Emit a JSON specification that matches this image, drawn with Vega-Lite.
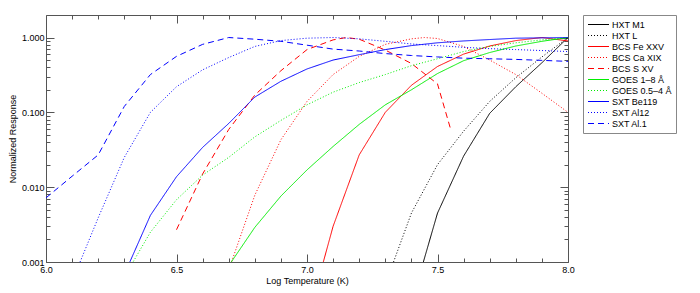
{
  "$schema": "https://vega.github.io/schema/vega-lite/v6.json",
  "width": 522,
  "height": 247,
  "autosize": {"type": "none"},
  "padding": {"left": 46, "top": 15, "right": 132, "bottom": 31},
  "background": "white",
  "config": {
    "view": {"stroke": "#555", "strokeWidth": 1},
    "font": "Liberation Sans",
    "axis": {"labelFont": "Liberation Sans", "titleFont": "Liberation Sans", "labelFontSize": 9, "titleFontSize": 9, "titleFontWeight": "normal", "labelColor": "#000", "titleColor": "#000", "tickColor": "#555", "grid": false, "domain": false}
  },
  "data": {"values": [
    {"series": "HXT M1", "t": 7.4, "r": 0.00028},
    {"series": "HXT M1", "t": 7.5, "r": 0.0045},
    {"series": "HXT M1", "t": 7.6, "r": 0.026},
    {"series": "HXT M1", "t": 7.7, "r": 0.097},
    {"series": "HXT M1", "t": 7.8, "r": 0.22},
    {"series": "HXT M1", "t": 7.9, "r": 0.46},
    {"series": "HXT M1", "t": 8.0, "r": 1.0},

    {"series": "HXT L", "t": 7.3, "r": 0.0005},
    {"series": "HXT L", "t": 7.4, "r": 0.0045},
    {"series": "HXT L", "t": 7.5, "r": 0.02},
    {"series": "HXT L", "t": 7.6, "r": 0.056},
    {"series": "HXT L", "t": 7.7, "r": 0.14},
    {"series": "HXT L", "t": 7.8, "r": 0.29},
    {"series": "HXT L", "t": 7.9, "r": 0.55},
    {"series": "HXT L", "t": 8.0, "r": 1.0},

    {"series": "BCS Fe XXV", "t": 7.0, "r": 0.00016},
    {"series": "BCS Fe XXV", "t": 7.1, "r": 0.003},
    {"series": "BCS Fe XXV", "t": 7.2, "r": 0.027},
    {"series": "BCS Fe XXV", "t": 7.3, "r": 0.10},
    {"series": "BCS Fe XXV", "t": 7.4, "r": 0.23},
    {"series": "BCS Fe XXV", "t": 7.5, "r": 0.41},
    {"series": "BCS Fe XXV", "t": 7.6, "r": 0.60},
    {"series": "BCS Fe XXV", "t": 7.7, "r": 0.77},
    {"series": "BCS Fe XXV", "t": 7.8, "r": 0.91},
    {"series": "BCS Fe XXV", "t": 7.9, "r": 1.0},
    {"series": "BCS Fe XXV", "t": 8.0, "r": 0.90},

    {"series": "BCS Ca XIX", "t": 6.7, "r": 0.00078},
    {"series": "BCS Ca XIX", "t": 6.8, "r": 0.0078},
    {"series": "BCS Ca XIX", "t": 6.9, "r": 0.043},
    {"series": "BCS Ca XIX", "t": 7.0, "r": 0.14},
    {"series": "BCS Ca XIX", "t": 7.1, "r": 0.32},
    {"series": "BCS Ca XIX", "t": 7.2, "r": 0.56},
    {"series": "BCS Ca XIX", "t": 7.3, "r": 0.81},
    {"series": "BCS Ca XIX", "t": 7.4, "r": 0.96},
    {"series": "BCS Ca XIX", "t": 7.45, "r": 1.0},
    {"series": "BCS Ca XIX", "t": 7.5, "r": 0.97},
    {"series": "BCS Ca XIX", "t": 7.6, "r": 0.76},
    {"series": "BCS Ca XIX", "t": 7.7, "r": 0.50},
    {"series": "BCS Ca XIX", "t": 7.8, "r": 0.32},
    {"series": "BCS Ca XIX", "t": 7.9, "r": 0.18},
    {"series": "BCS Ca XIX", "t": 8.0, "r": 0.10},

    {"series": "BCS S XV", "t": 6.5, "r": 0.0027},
    {"series": "BCS S XV", "t": 6.6, "r": 0.015},
    {"series": "BCS S XV", "t": 6.7, "r": 0.059},
    {"series": "BCS S XV", "t": 6.8, "r": 0.17},
    {"series": "BCS S XV", "t": 6.9, "r": 0.36},
    {"series": "BCS S XV", "t": 7.0, "r": 0.69},
    {"series": "BCS S XV", "t": 7.1, "r": 0.93},
    {"series": "BCS S XV", "t": 7.15, "r": 1.0},
    {"series": "BCS S XV", "t": 7.2, "r": 0.95},
    {"series": "BCS S XV", "t": 7.3, "r": 0.68},
    {"series": "BCS S XV", "t": 7.4, "r": 0.45},
    {"series": "BCS S XV", "t": 7.5, "r": 0.24},
    {"series": "BCS S XV", "t": 7.55, "r": 0.06},

    {"series": "GOES 1–8 Å", "t": 6.7, "r": 0.00089},
    {"series": "GOES 1–8 Å", "t": 6.8, "r": 0.0029},
    {"series": "GOES 1–8 Å", "t": 6.9, "r": 0.0076},
    {"series": "GOES 1–8 Å", "t": 7.0, "r": 0.017},
    {"series": "GOES 1–8 Å", "t": 7.1, "r": 0.035},
    {"series": "GOES 1–8 Å", "t": 7.2, "r": 0.069},
    {"series": "GOES 1–8 Å", "t": 7.3, "r": 0.126},
    {"series": "GOES 1–8 Å", "t": 7.4, "r": 0.20},
    {"series": "GOES 1–8 Å", "t": 7.5, "r": 0.33},
    {"series": "GOES 1–8 Å", "t": 7.6, "r": 0.49},
    {"series": "GOES 1–8 Å", "t": 7.7, "r": 0.63},
    {"series": "GOES 1–8 Å", "t": 7.8, "r": 0.77},
    {"series": "GOES 1–8 Å", "t": 7.9, "r": 0.89},
    {"series": "GOES 1–8 Å", "t": 8.0, "r": 1.0},

    {"series": "GOES 0.5–4 Å", "t": 6.3, "r": 0.00063},
    {"series": "GOES 0.5–4 Å", "t": 6.4, "r": 0.0025},
    {"series": "GOES 0.5–4 Å", "t": 6.5, "r": 0.0068},
    {"series": "GOES 0.5–4 Å", "t": 6.6, "r": 0.0145},
    {"series": "GOES 0.5–4 Å", "t": 6.7, "r": 0.025},
    {"series": "GOES 0.5–4 Å", "t": 6.8, "r": 0.047},
    {"series": "GOES 0.5–4 Å", "t": 6.9, "r": 0.078},
    {"series": "GOES 0.5–4 Å", "t": 7.0, "r": 0.126},
    {"series": "GOES 0.5–4 Å", "t": 7.1, "r": 0.186},
    {"series": "GOES 0.5–4 Å", "t": 7.2, "r": 0.25},
    {"series": "GOES 0.5–4 Å", "t": 7.3, "r": 0.32},
    {"series": "GOES 0.5–4 Å", "t": 7.4, "r": 0.42},
    {"series": "GOES 0.5–4 Å", "t": 7.5, "r": 0.52},
    {"series": "GOES 0.5–4 Å", "t": 7.6, "r": 0.65},
    {"series": "GOES 0.5–4 Å", "t": 7.7, "r": 0.76},
    {"series": "GOES 0.5–4 Å", "t": 7.8, "r": 0.85},
    {"series": "GOES 0.5–4 Å", "t": 7.9, "r": 0.93},
    {"series": "GOES 0.5–4 Å", "t": 8.0, "r": 1.0},

    {"series": "SXT Be119", "t": 6.3, "r": 0.00068},
    {"series": "SXT Be119", "t": 6.4, "r": 0.0042},
    {"series": "SXT Be119", "t": 6.5, "r": 0.0138},
    {"series": "SXT Be119", "t": 6.6, "r": 0.034},
    {"series": "SXT Be119", "t": 6.7, "r": 0.071},
    {"series": "SXT Be119", "t": 6.8, "r": 0.16},
    {"series": "SXT Be119", "t": 6.9, "r": 0.26},
    {"series": "SXT Be119", "t": 7.0, "r": 0.38},
    {"series": "SXT Be119", "t": 7.1, "r": 0.50},
    {"series": "SXT Be119", "t": 7.2, "r": 0.59},
    {"series": "SXT Be119", "t": 7.3, "r": 0.69},
    {"series": "SXT Be119", "t": 7.4, "r": 0.78},
    {"series": "SXT Be119", "t": 7.5, "r": 0.85},
    {"series": "SXT Be119", "t": 7.6, "r": 0.90},
    {"series": "SXT Be119", "t": 7.7, "r": 0.94},
    {"series": "SXT Be119", "t": 7.8, "r": 0.98},
    {"series": "SXT Be119", "t": 7.9, "r": 0.99},
    {"series": "SXT Be119", "t": 8.0, "r": 1.0},

    {"series": "SXT Al12", "t": 6.1, "r": 0.00055},
    {"series": "SXT Al12", "t": 6.2, "r": 0.0039},
    {"series": "SXT Al12", "t": 6.3, "r": 0.025},
    {"series": "SXT Al12", "t": 6.4, "r": 0.10},
    {"series": "SXT Al12", "t": 6.5, "r": 0.22},
    {"series": "SXT Al12", "t": 6.6, "r": 0.37},
    {"series": "SXT Al12", "t": 6.7, "r": 0.54},
    {"series": "SXT Al12", "t": 6.8, "r": 0.76},
    {"series": "SXT Al12", "t": 6.9, "r": 0.91},
    {"series": "SXT Al12", "t": 7.0, "r": 0.98},
    {"series": "SXT Al12", "t": 7.1, "r": 1.0},
    {"series": "SXT Al12", "t": 7.2, "r": 0.96},
    {"series": "SXT Al12", "t": 7.3, "r": 0.89},
    {"series": "SXT Al12", "t": 7.4, "r": 0.82},
    {"series": "SXT Al12", "t": 7.5, "r": 0.78},
    {"series": "SXT Al12", "t": 7.6, "r": 0.74},
    {"series": "SXT Al12", "t": 7.7, "r": 0.71},
    {"series": "SXT Al12", "t": 7.8, "r": 0.69},
    {"series": "SXT Al12", "t": 7.9, "r": 0.67},
    {"series": "SXT Al12", "t": 8.0, "r": 0.65},

    {"series": "SXT Al.1", "t": 6.0, "r": 0.0072},
    {"series": "SXT Al.1", "t": 6.1, "r": 0.014},
    {"series": "SXT Al.1", "t": 6.2, "r": 0.027},
    {"series": "SXT Al.1", "t": 6.3, "r": 0.12},
    {"series": "SXT Al.1", "t": 6.4, "r": 0.32},
    {"series": "SXT Al.1", "t": 6.5, "r": 0.56},
    {"series": "SXT Al.1", "t": 6.6, "r": 0.81},
    {"series": "SXT Al.1", "t": 6.7, "r": 1.0},
    {"series": "SXT Al.1", "t": 6.8, "r": 0.95},
    {"series": "SXT Al.1", "t": 6.9, "r": 0.89},
    {"series": "SXT Al.1", "t": 7.0, "r": 0.79},
    {"series": "SXT Al.1", "t": 7.1, "r": 0.70},
    {"series": "SXT Al.1", "t": 7.2, "r": 0.66},
    {"series": "SXT Al.1", "t": 7.3, "r": 0.61},
    {"series": "SXT Al.1", "t": 7.4, "r": 0.575},
    {"series": "SXT Al.1", "t": 7.5, "r": 0.55},
    {"series": "SXT Al.1", "t": 7.6, "r": 0.53},
    {"series": "SXT Al.1", "t": 7.7, "r": 0.52},
    {"series": "SXT Al.1", "t": 7.8, "r": 0.51},
    {"series": "SXT Al.1", "t": 7.9, "r": 0.495},
    {"series": "SXT Al.1", "t": 8.0, "r": 0.48}
  ]},
  "layer": [
    {
      "mark": {"type": "line", "clip": true, "strokeWidth": 1},
      "encoding": {
        "x": {"field": "t", "type": "quantitative", "scale": {"domain": [6, 8], "nice": false, "zero": false},
              "axis": {"orient": "bottom", "values": [6, 6.5, 7, 7.5, 8], "format": ".1f", "ticks": false, "labelPadding": 3, "title": "Log Temperature (K)", "titlePadding": 2, "labelFlush": false}},
        "y": {"field": "r", "type": "quantitative", "scale": {"type": "log", "domain": [0.001, 2], "nice": false},
              "axis": {"orient": "left", "values": [0.001, 0.01, 0.1, 1], "format": ".3f", "ticks": false, "labelPadding": 2, "title": "Normalized Response", "titlePadding": 4}},
        "color": {"field": "series", "type": "nominal",
                  "scale": {"domain": ["HXT M1", "HXT L", "BCS Fe XXV", "BCS Ca XIX", "BCS S XV", "GOES 1–8 Å", "GOES 0.5–4 Å", "SXT Be119", "SXT Al12", "SXT Al.1"],
                            "range": ["#000000", "#000000", "#ff0000", "#ff0000", "#ff0000", "#00ee00", "#00ee00", "#0000ff", "#0000ff", "#0000ff"]},
                  "legend": {"title": null, "orient": "none", "legendX": 537, "legendY": 0, "symbolType": "M-2.1,0L2.1,0", "symbolSize": 100, "symbolStrokeWidth": 1, "symbolOffset": 6, "labelFont": "Liberation Sans", "labelFontSize": 9, "labelColor": "#000", "labelOffset": 8, "rowPadding": 0, "strokeColor": "#888", "padding": 4, "labelLimit": 200}},
        "strokeDash": {"field": "series", "type": "nominal",
                  "scale": {"domain": ["HXT M1", "HXT L", "BCS Fe XXV", "BCS Ca XIX", "BCS S XV", "GOES 1–8 Å", "GOES 0.5–4 Å", "SXT Be119", "SXT Al12", "SXT Al.1"],
                            "range": [[1, 0], [1, 2], [1, 0], [1, 2], [6, 4], [1, 0], [1, 2], [1, 0], [1, 2], [6, 4]]},
                  "legend": {"title": null, "orient": "none", "legendX": 537, "legendY": 0, "symbolType": "M-2.1,0L2.1,0", "symbolSize": 100, "symbolStrokeWidth": 1, "symbolOffset": 6, "labelFont": "Liberation Sans", "labelFontSize": 9, "labelColor": "#000", "labelOffset": 8, "rowPadding": 0, "strokeColor": "#888", "padding": 4, "labelLimit": 200}}
      }
    },
    {
      "mark": {"type": "line", "opacity": 0},
      "encoding": {
        "detail": {"field": "series"},
        "x": {"field": "t", "type": "quantitative", "axis": {"orient": "bottom", "values": [6, 6.5, 7, 7.5, 8], "labels": false, "tickSize": -8, "title": null}},
        "y": {"field": "r", "type": "quantitative", "axis": {"orient": "left", "values": [0.001, 0.01, 0.1, 1], "labels": false, "tickSize": -8, "title": null}}
      }
    },
    {
      "mark": {"type": "line", "opacity": 0},
      "encoding": {
        "detail": {"field": "series"},
        "x": {"field": "t", "type": "quantitative", "axis": {"orient": "bottom", "values": [6.1, 6.2, 6.3, 6.4, 6.6, 6.7, 6.8, 6.9, 7.1, 7.2, 7.3, 7.4, 7.6, 7.7, 7.8, 7.9], "labels": false, "tickSize": -4, "title": null}},
        "y": {"field": "r", "type": "quantitative", "axis": {"orient": "left", "values": [0.002, 0.003, 0.004, 0.005, 0.006, 0.007, 0.008, 0.009, 0.02, 0.03, 0.04, 0.05, 0.06, 0.07, 0.08, 0.09, 0.2, 0.3, 0.4, 0.5, 0.6, 0.7, 0.8, 0.9], "labels": false, "tickSize": -4, "title": null}}
      }
    },
    {
      "mark": {"type": "line", "opacity": 0},
      "encoding": {
        "detail": {"field": "series"},
        "x": {"field": "t", "type": "quantitative", "axis": {"orient": "top", "values": [6, 6.5, 7, 7.5, 8], "labels": false, "tickSize": -8, "title": null}},
        "y": {"field": "r", "type": "quantitative", "axis": {"orient": "right", "values": [0.001, 0.01, 0.1, 1], "labels": false, "tickSize": -8, "title": null}}
      }
    },
    {
      "mark": {"type": "line", "opacity": 0},
      "encoding": {
        "detail": {"field": "series"},
        "x": {"field": "t", "type": "quantitative", "axis": {"orient": "top", "values": [6.1, 6.2, 6.3, 6.4, 6.6, 6.7, 6.8, 6.9, 7.1, 7.2, 7.3, 7.4, 7.6, 7.7, 7.8, 7.9], "labels": false, "tickSize": -4, "title": null}},
        "y": {"field": "r", "type": "quantitative", "axis": {"orient": "right", "values": [0.002, 0.003, 0.004, 0.005, 0.006, 0.007, 0.008, 0.009, 0.02, 0.03, 0.04, 0.05, 0.06, 0.07, 0.08, 0.09, 0.2, 0.3, 0.4, 0.5, 0.6, 0.7, 0.8, 0.9], "labels": false, "tickSize": -4, "title": null}}
      }
    }
  ],
  "resolve": {"axis": {"x": "independent", "y": "independent"}}
}
